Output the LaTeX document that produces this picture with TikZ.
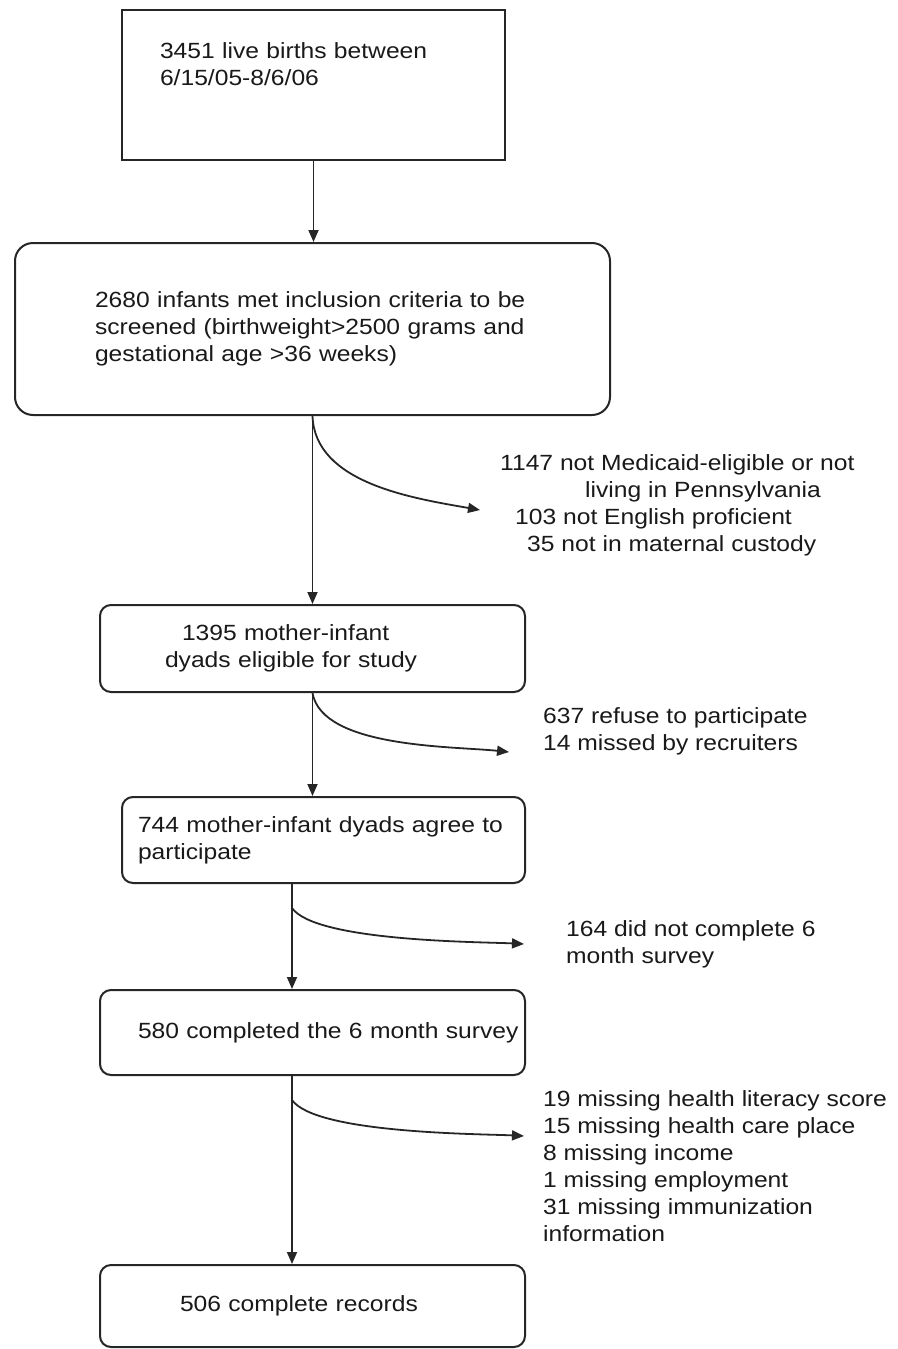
\documentclass[tikz,border=0pt]{standalone}
\usepackage{fontspec}
\setmainfont{Liberation Sans}[FakeStretch=1.12]
\usetikzlibrary{arrows.meta, positioning, calc}

\begin{document}
\begin{tikzpicture}[x=1pt, y=1pt,
      every node/.style={font=\fontsize{22}{27}\selectfont, text=black!90},
      stage/.style={draw=black!85, line width=2pt, align=left, inner ysep=0pt},
      excl/.style={align=left, inner sep=0pt, anchor=north west},
      flow/.style={draw=black!85, line width=1.8pt, -{Triangle[length=12pt, width=10pt]}}
    ]
      \useasboundingbox (0,0) rectangle (897,-1349);

      % Stage boxes
      \node[stage, text width=307pt, inner xsep=38pt, minimum height=150pt] (births) at (313.5,-85) {3451 live births between\\6/15/05-8/6/06\\[14pt]\mbox{}};
      \node[stage, rounded corners=18pt, text width=435pt, inner xsep=80pt, minimum height=172pt] (screened) at (312.5,-329) {2680 infants met inclusion criteria to be\\screened (birthweight>2500 grams and\\gestational age >36 weeks)};
      \node[stage, rounded corners=11pt, text width=295pt, inner xsep=65pt, minimum height=87pt] (eligible) at (312.5,-648.5) {\hspace*{17pt}1395 mother-infant\\dyads eligible for study};
      \node[stage, rounded corners=11pt, text width=371pt, inner xsep=16pt, minimum height=86pt] (agree) at (323.5,-840) {744 mother-infant dyads agree to\\participate};
      \node[stage, rounded corners=11pt, text width=349pt, inner xsep=38pt, minimum height=85pt] (survey) at (312.5,-1032.5) {\mbox{580 completed the 6 month survey}};
      \node[stage, rounded corners=11pt, text width=265pt, inner xsep=80pt, minimum height=82pt] (records) at (312.5,-1306) {506 complete records};

      % Exclusions
      \node[excl] (exclA) at (500,-454) {1147 not Medicaid-eligible or not\\\hspace*{85pt}living in Pennsylvania\\\hspace*{15pt}103 not English proficient\\\hspace*{27pt}35 not in maternal custody};
      \node[excl] (exclB) at (543,-707) {637 refuse to participate\\14 missed by recruiters};
      \node[excl] (exclC) at (566,-920) {164 did not complete 6\\month survey};
      \node[excl] (exclD) at (543,-1090) {19 missing health literacy score\\15 missing health care place\\8 missing income\\1 missing employment\\31 missing immunization\\information};

      % Arrow tips and trunks
      \coordinate (tipA) at ([xshift=-20pt, yshift=-56pt]exclA.north west);
      \coordinate (tipB) at ([xshift=-34pt, yshift=-45pt]exclB.north west);
      \coordinate (tipC) at ([xshift=-42pt, yshift=-24pt]exclC.north west);
      \coordinate (tipD) at ([xshift=-19pt, yshift=-46pt]exclD.north west);
      \coordinate (trunkC) at ([xshift=-31.5pt]agree.south);
      \coordinate (trunkD) at ([xshift=-20.5pt]survey.south);

      % Main flow
      \draw[flow] (births.south) -- (births.south |- screened.north);
      \draw[flow] (screened.south) -- (screened.south |- eligible.north);
      \draw[flow] (eligible.south) -- (eligible.south |- agree.north);
      \draw[flow] (trunkC) -- (trunkC |- survey.north);
      \draw[flow] (trunkD) -- (trunkD |- records.north);

      % Side branches
      \draw[flow] (screened.south) to[out=-88, in=170, looseness=0.9] (tipA);
      \draw[flow] (eligible.south) to[out=-80, in=174, looseness=0.7] (tipB);
      \draw[flow] ([yshift=-24pt]trunkC) to[out=-55, in=177, looseness=0.45] (tipC);
      \draw[flow] ([yshift=-24pt]trunkD) to[out=-55, in=177, looseness=0.45] (tipD);
    \end{tikzpicture}
\end{document}
